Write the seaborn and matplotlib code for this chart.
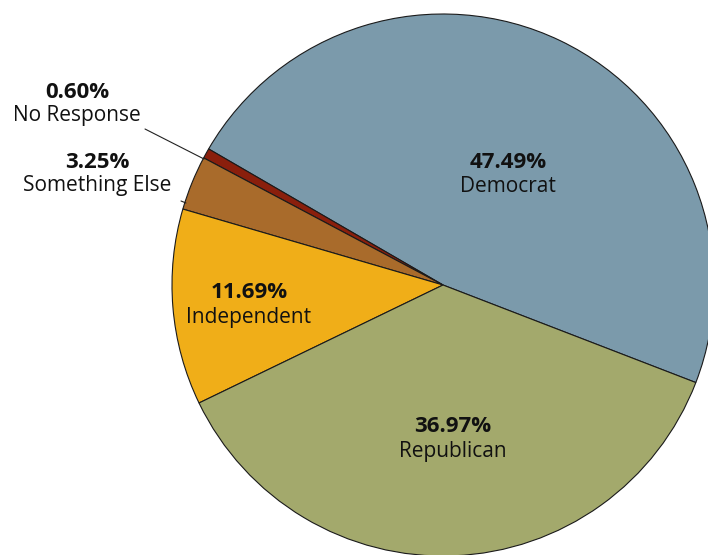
import matplotlib
matplotlib.use("Agg")
import matplotlib.pyplot as plt
import seaborn as sns

categories = ["Democrat", "No Response", "Something Else", "Independent", "Republican"]
shares = [47.49, 0.60, 3.25, 11.69, 36.97]
pct_labels = ["47.49%", "0.60%", "3.25%", "11.69%", "36.97%"]
colors = ["#7b9aab", "#8a1f0c", "#a96b2b", "#f0ae18", "#a3a96c"]

# label centres in pixel coords (x, y from top)
label_pos = [(508, 174), (77, 104), (97, 174), (249, 305), (453, 439)]

sns.set_theme(style="white")
plt.rcParams['font.family'] = ['Open Sans', 'DejaVu Sans']

W, H = 708, 555
fig = plt.figure(figsize=(W / 100, H / 100), dpi=100)
ax = fig.add_axes([0, 0, 1, 1])
ax.set_xlim(0, W)
ax.set_ylim(0, H)
ax.set_aspect("equal")
ax.axis("off")

cx, cy, R = 443, H - 285, 271
ax.pie(shares, colors=colors, startangle=-21.1, counterclock=True,
       center=(cx, cy), radius=R, frame=True,
       wedgeprops=dict(edgecolor="#1a1a1a", linewidth=0.8))
ax.set_xlim(0, W)
ax.set_ylim(0, H)
ax.axis("off")

fs = 15
for (x, y), p, c in zip(label_pos, pct_labels, categories):
    ax.text(x, H - y + 12, p, ha="center", va="center", fontsize=16,
            fontweight="bold", color="#111111")
    ax.text(x, H - y - 12, c, ha="center", va="center", fontsize=fs,
            color="#111111")

# leader lines
ax.plot([145, 204], [H - 129, H - 159], color="#222222", lw=0.8)
ax.plot([181, 186], [H - 201, H - 203], color="#222222", lw=0.8)

fig.savefig("out.png", dpi=100)
